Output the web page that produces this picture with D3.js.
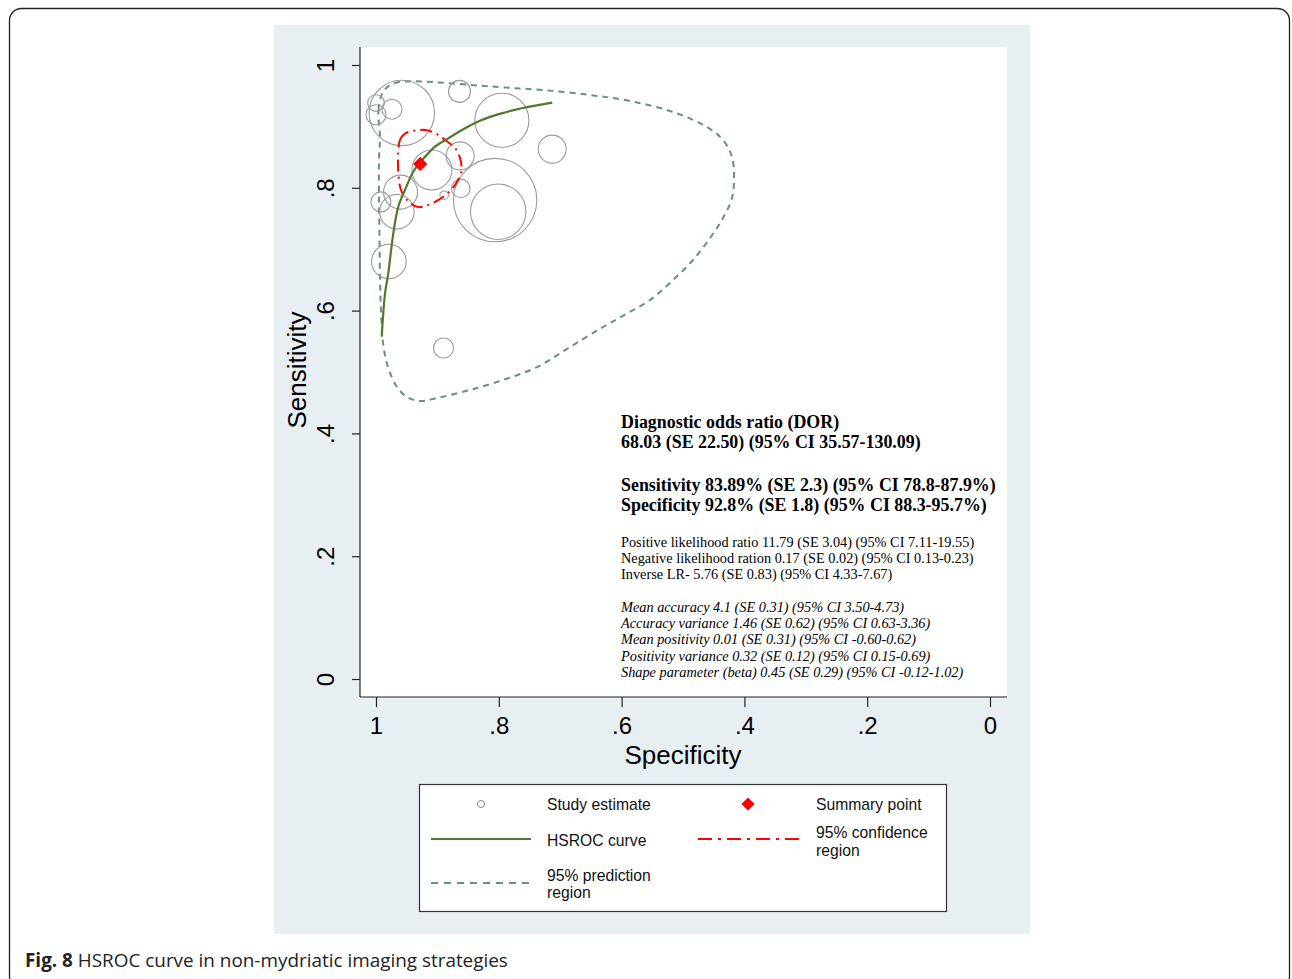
<!DOCTYPE html>
<html><head><meta charset="utf-8">
<script src="https://cdn.jsdelivr.net/npm/d3@7"></script>
<style>body{margin:0;background:#fff;} svg{display:block;}</style>
</head><body>
<svg id="chart" width="1292" height="979"></svg>
<script>
// ---- data ----
const studySpec = [0.958,1.000,1.000,0.974,0.864,0.795,0.713,0.863,0.909,0.960,0.862,0.889,0.806,0.801,0.992,0.966,0.979,0.890];
const studySens = [0.922,0.938,0.919,0.928,0.957,0.910,0.863,0.852,0.829,0.793,0.799,0.788,0.780,0.761,0.777,0.761,0.680,0.539];
const studyWeight = [1070,69,100,100,121,729,196,196,400,289,86,18,1739,767,100,299,299,100];

const summarySpec = 0.928, summarySens = 0.8389;

const curveSpec = [0.9907,0.9853,0.9800,0.9718,0.9637,0.9528,0.9393,0.9283,0.9039,0.8822,0.8550,0.8279,0.7953,0.7627,0.7129];
const curveSens = [0.5575,0.6282,0.6607,0.7259,0.7692,0.7964,0.8262,0.8409,0.8669,0.8806,0.8969,0.9104,0.9213,0.9295,0.9386];

const confSpec = [0.9637,0.9609,0.9528,0.9365,0.9202,0.9039,0.8876,0.8713,0.8632,0.8607,0.8664,0.8779,0.8958,0.9153,0.9316,0.9479,0.9593,0.9634,0.9642];
const confSens = [0.8616,0.8779,0.8884,0.8933,0.8941,0.8893,0.8779,0.8648,0.8485,0.8290,0.8127,0.7964,0.7818,0.7720,0.7687,0.7785,0.7964,0.8208,0.8420];

const predSpec = [0.9935,0.9959,0.9886,0.9739,0.9528,0.9251,0.8436,0.7899,0.7280,0.6515,0.5863,0.5163,0.4609,0.4349,0.4202,0.4169,0.4202,0.4349,0.4560,0.4837,0.5163,0.5537,0.5912,0.6303,0.6840,0.7378,0.7932,0.8469,0.9007,0.9283,0.9495,0.9658,0.9805,0.9886,0.9919,0.9935,0.9943,0.9951,0.9951];
const predSens = [0.8827,0.9267,0.9560,0.9691,0.9731,0.9731,0.9674,0.9633,0.9593,0.9511,0.9414,0.9235,0.8990,0.8779,0.8502,0.8176,0.7834,0.7508,0.7182,0.6824,0.6498,0.6173,0.5953,0.5733,0.5407,0.5081,0.4870,0.4707,0.4577,0.4528,0.4593,0.4756,0.5081,0.5472,0.6010,0.6547,0.7150,0.7801,0.8453];

const xTicks = [1,0.8,0.6,0.4,0.2,0];
const xTickLabels = ["1",".8",".6",".4",".2","0"];
const yTicks = [0,0.2,0.4,0.6,0.8,1];
const yTickLabels = ["0",".2",".4",".6",".8","1"];

const statsBold1 = ["Diagnostic odds ratio (DOR)","68.03 (SE 22.50) (95% CI 35.57-130.09)"];
const statsBold2 = ["Sensitivity 83.89% (SE 2.3) (95% CI 78.8-87.9%)","Specificity 92.8% (SE 1.8) (95% CI 88.3-95.7%)"];
const statsPlain = ["Positive likelihood ratio 11.79 (SE 3.04) (95% CI 7.11-19.55)","Negative likelihood ration 0.17 (SE 0.02) (95% CI 0.13-0.23)","Inverse LR- 5.76 (SE 0.83) (95% CI 4.33-7.67)"];
const statsItalic = ["Mean accuracy 4.1 (SE 0.31) (95% CI 3.50-4.73)","Accuracy variance 1.46 (SE 0.62) (95% CI 0.63-3.36)","Mean positivity 0.01 (SE 0.31) (95% CI -0.60-0.62)","Positivity variance 0.32 (SE 0.12) (95% CI 0.15-0.69)","Shape parameter (beta) 0.45 (SE 0.29) (95% CI -0.12-1.02)"];

// ---- drawing ----
const svg = d3.select("#chart");
const sans = "'Liberation Sans', Arial, sans-serif";
const serif = "'Liberation Serif', 'Times New Roman', serif";

// outer frame
svg.append("rect").attr("x",9.5).attr("y",8.5).attr("width",1280).attr("height",980)
  .attr("rx",12).attr("fill","none").attr("stroke","#222").attr("stroke-width",1.3);

// panel background
svg.append("rect").attr("x",274).attr("y",25).attr("width",756).attr("height",909).attr("fill","#e8eff2");
// plot region
const plotL=360, plotR=1007, plotT=47, plotB=697;
svg.append("rect").attr("x",plotL).attr("y",plotT).attr("width",plotR-plotL).attr("height",plotB-plotT).attr("fill","#fff");

const x = d3.scaleLinear().domain([1,0]).range([376,990]);
const y = d3.scaleLinear().domain([0,1]).range([679,65]);
const r = d3.scaleSqrt().domain([0,d3.max(studyWeight)]).range([0,41.7]);

// axes
const gx = svg.append("g").attr("transform",`translate(0,${plotB})`)
  .call(d3.axisBottom(x).tickValues(xTicks).tickSize(10).tickSizeOuter(0).tickFormat((d,i)=>xTickLabels[i]));
gx.select(".domain").attr("d",`M${plotL},0H${plotR}`).attr("stroke","#222").attr("stroke-width",1.2);
gx.selectAll(".tick line").attr("stroke","#222").attr("stroke-width",1.2);
gx.selectAll(".tick text").attr("font-family",sans).attr("font-size",24).attr("fill","#000").attr("dy","1.12em").attr("y",10);

const gy = svg.append("g").attr("transform",`translate(${plotL},0)`)
  .call(d3.axisLeft(y).tickValues(yTicks).tickSize(8).tickSizeOuter(0).tickFormat((d,i)=>yTickLabels[i]));
gy.select(".domain").attr("d",`M0,${plotT}V${plotB}`).attr("stroke","#222").attr("stroke-width",1.2);
gy.selectAll(".tick line").attr("stroke","#222").attr("stroke-width",1.2);
gy.selectAll(".tick text").attr("font-family",sans).attr("font-size",24).attr("fill","#000")
  .attr("x",null).attr("dy",null).attr("text-anchor","middle")
  .attr("transform","translate(-26,0) rotate(-90)");

svg.append("text").attr("x",683).attr("y",764).attr("text-anchor","middle")
  .attr("font-family",sans).attr("font-size",26).text("Specificity");
svg.append("text").attr("transform","translate(306,370) rotate(-90)").attr("text-anchor","middle")
  .attr("font-family",sans).attr("font-size",26).text("Sensitivity");

// prediction region
const line = d3.line().x(d=>x(d[0])).y(d=>y(d[1]));
const closed = d3.line().x(d=>x(d[0])).y(d=>y(d[1])).curve(d3.curveCatmullRomClosed);
svg.append("path").datum(predSpec.map((s,i)=>[s,predSens[i]]))
  .attr("d",closed).attr("fill","none").attr("stroke","#6b8f82").attr("stroke-width",2).attr("stroke-dasharray","6,5");

// studies
svg.append("g").selectAll("circle").data(studySpec).join("circle")
  .attr("cx",d=>x(d)).attr("cy",(d,i)=>y(studySens[i])).attr("r",(d,i)=>r(studyWeight[i]))
  .attr("fill","none").attr("stroke","#9a9a9a").attr("stroke-width",1.1);

// confidence region
svg.append("path").datum(confSpec.map((s,i)=>[s,confSens[i]]))
  .attr("d",closed).attr("fill","none").attr("stroke","#ff0000").attr("stroke-width",2).attr("stroke-dasharray","12,5,2,5");

// HSROC curve
svg.append("path").datum(curveSpec.map((s,i)=>[s,curveSens[i]]))
  .attr("d",line.curve(d3.curveCatmullRom)).attr("fill","none").attr("stroke","#4f7a2c").attr("stroke-width",2.2);

// summary point
svg.append("path").attr("d",d3.symbol(d3.symbolDiamond2,130)())
  .attr("transform",`translate(${x(summarySpec)},${y(summarySens)})`).attr("fill","#ff0000");

// stats text
const tg = svg.append("g").attr("font-family",serif).attr("fill","#000");
statsBold1.forEach((t,i)=>tg.append("text").attr("x",621).attr("y",428+i*20).attr("font-size",17.9).attr("font-weight","bold").text(t));
statsBold2.forEach((t,i)=>tg.append("text").attr("x",621).attr("y",491+i*20).attr("font-size",17.9).attr("font-weight","bold").text(t));
statsPlain.forEach((t,i)=>tg.append("text").attr("x",621).attr("y",547+i*16).attr("font-size",14.3).text(t));
statsItalic.forEach((t,i)=>tg.append("text").attr("x",621).attr("y",612+i*16.2).attr("font-size",14.3).attr("font-style","italic").text(t));

// legend
svg.append("rect").attr("x",419.5).attr("y",784.5).attr("width",527).attr("height",127).attr("fill","#fff").attr("stroke","#333").attr("stroke-width",1.2);
const lg = svg.append("g").attr("font-family",sans).attr("font-size",15.7).attr("fill","#111");
svg.append("circle").attr("cx",481).attr("cy",804).attr("r",3.5).attr("fill","none").attr("stroke","#888").attr("stroke-width",1);
lg.append("text").attr("x",547).attr("y",810).text("Study estimate");
svg.append("path").attr("d",d3.symbol(d3.symbolDiamond2,110)()).attr("transform","translate(748,804)").attr("fill","#ff0000");
lg.append("text").attr("x",816).attr("y",810).text("Summary point");
svg.append("line").attr("x1",431).attr("x2",531).attr("y1",839).attr("y2",839).attr("stroke","#4f7a2c").attr("stroke-width",2);
lg.append("text").attr("x",547).attr("y",846).text("HSROC curve");
svg.append("line").attr("x1",698).attr("x2",800).attr("y1",839).attr("y2",839).attr("stroke","#ff0000").attr("stroke-width",2).attr("stroke-dasharray","14,6,3,6");
lg.append("text").attr("x",816).attr("y",838).text("95% confidence");
lg.append("text").attr("x",816).attr("y",856).text("region");
svg.append("line").attr("x1",431).attr("x2",531).attr("y1",883).attr("y2",883).attr("stroke","#6b8f82").attr("stroke-width",2).attr("stroke-dasharray","7,6");
lg.append("text").attr("x",547).attr("y",881).text("95% prediction");
lg.append("text").attr("x",547).attr("y",898).text("region");

// caption
const cap = svg.append("text").attr("x",25).attr("y",967).attr("font-family","'Open Sans', 'Noto Sans', sans-serif").attr("font-size",18.9).attr("fill","#222");
cap.append("tspan").attr("font-weight","bold").text("Fig. 8");
cap.append("tspan").text(" HSROC curve in non-mydriatic imaging strategies");
</script>
</body></html>
